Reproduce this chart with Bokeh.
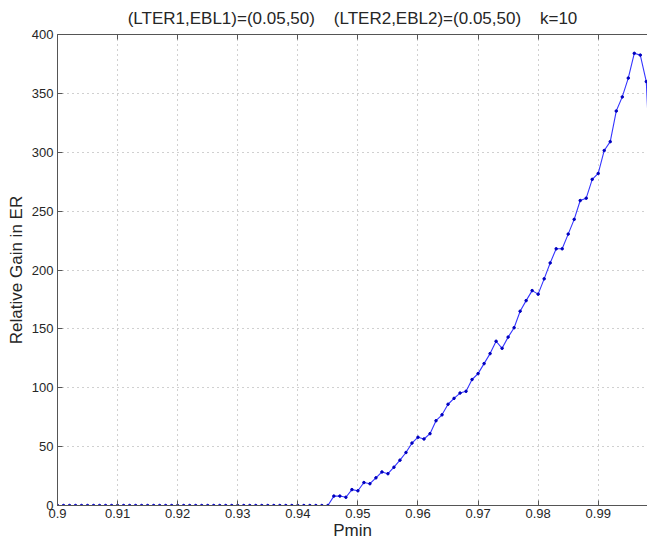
from bokeh.plotting import figure
from bokeh.models import FixedTicker, LinearAxis, Range1d, ColumnDataSource
from bokeh.embed import file_html
from bokeh.resources import INLINE
import numpy as np

# ---- data ----
pmin = np.round(np.arange(0.900, 0.9995, 0.001), 3)
gain = [0.0] * 46 + [
    8, 8, 7, 13.5, 12.5, 19.5, 18.5, 23.5, 28.5, 27,
    32.5, 38.5, 45, 53, 58, 56.5, 61, 72, 77, 86,
    91, 95.5, 97, 107, 112, 120.5, 129, 139.5, 133.5, 143,
    151, 165, 174, 182.5, 179.5, 192.5, 206, 218, 218, 230.5,
    243, 259, 261, 277, 282, 301.5, 309, 335, 347, 363,
    384, 382.5, 360, 250,
]
x_ticks = [0.9, 0.91, 0.92, 0.93, 0.94, 0.95, 0.96, 0.97, 0.98, 0.99]
x_tick_labels = ["0.9", "0.91", "0.92", "0.93", "0.94", "0.95", "0.96", "0.97", "0.98", "0.99"]
y_ticks = [0, 50, 100, 150, 200, 250, 300, 350, 400]
GAP = "\u00a0" * 4
title_text = "(LTER1,EBL1)=(0.05,50)" + GAP + "(LTER2,EBL2)=(0.05,50)" + GAP + "k=10"
x_label = "Pmin"
y_label = "Relative Gain in ER"

FONT = "Liberation Sans"
AX = "#555555"
TXT = "#262626"

src = ColumnDataSource(dict(x=list(pmin), y=gain))

p = figure(width=647, height=542, output_backend="svg", toolbar_location=None,
           x_range=Range1d(0.9, 0.9982), y_range=Range1d(0, 400),
           min_border_left=57, min_border_right=0, min_border_top=0, min_border_bottom=35,
           title=title_text)
p.outline_line_color = None
p.background_fill_color = "white"
p.border_fill_color = "white"

p.title.text_font = FONT
p.title.text_font_size = "17px"
p.title.text_font_style = "normal"
p.title.text_color = TXT
p.title.align = "center"
p.title.offset = 4
p.title.standoff = 13

for ax in (p.xaxis[0], p.yaxis[0]):
    ax.axis_line_color = AX
    ax.major_tick_line_color = AX
    ax.major_tick_in = 5
    ax.major_tick_out = 0
    ax.minor_tick_line_color = None
    ax.major_label_text_font = FONT
    ax.major_label_text_font_size = "13px"
    ax.major_label_text_color = TXT
    ax.axis_label_text_font = FONT
    ax.axis_label_text_font_size = "17px"
    ax.axis_label_text_font_style = "normal"
    ax.axis_label_text_color = TXT

p.xaxis[0].ticker = FixedTicker(ticks=x_ticks)
p.xaxis[0].major_label_overrides = dict(zip(x_ticks, x_tick_labels))
p.xaxis[0].major_label_standoff = 3
p.xaxis[0].axis_label = x_label
p.xaxis[0].axis_label_standoff = 0

p.yaxis[0].ticker = FixedTicker(ticks=y_ticks)
p.yaxis[0].major_label_standoff = 4
p.yaxis[0].axis_label = y_label
p.yaxis[0].axis_label_standoff = 3

top = LinearAxis(ticker=FixedTicker(ticks=x_ticks))
top.axis_line_color = AX
top.major_tick_line_color = AX
top.major_tick_in = 5
top.major_tick_out = 0
top.minor_tick_line_color = None
top.major_label_text_font_size = "1px"
top.major_label_text_alpha = 0
top.major_label_standoff = 10
p.add_layout(top, "above")

p.xgrid.ticker = FixedTicker(ticks=x_ticks)
p.ygrid.ticker = FixedTicker(ticks=y_ticks)
for g in (p.xgrid[0], p.ygrid[0]):
    g.grid_line_color = "#a0a0a0"
    g.grid_line_dash = "1 4"
    g.grid_line_width = 1

p.line("x", "y", source=src, line_color="#3535ff", line_width=1.1)
p.scatter("x", "y", source=src, size=2.5, marker="circle",
          fill_color="#0000c0", line_color="#0000c0")

open("out.html", "w").write(file_html(p, INLINE))
